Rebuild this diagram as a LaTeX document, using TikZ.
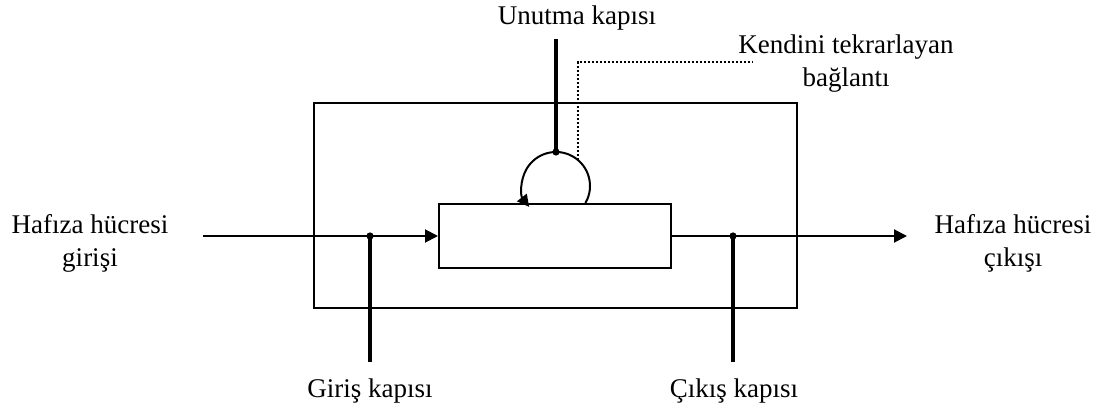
\documentclass[tikz,border=0pt]{standalone}
\usepackage{fontspec}
\setmainfont{Liberation Serif}
\usetikzlibrary{arrows.meta,positioning}

\begin{document}
\begin{tikzpicture}[
  x=0.5pt, y=-0.5pt,
  box/.style={draw, line width=1pt, rectangle, inner sep=0pt},
  lbl/.style={font=\fontsize{13.5}{16.5}\selectfont, inner sep=0pt, align=center},
  sig/.style={line width=1pt},
  arr/.style={-{Triangle[length=6.5pt,width=6.5pt]}, line width=1pt},
  gate/.style={line width=1.6pt},
  dot/.style={circle, fill, inner sep=0pt, minimum size=3.6pt},
  loop/.style={-{Triangle[length=6pt,width=6pt]}, line width=1pt},
  node distance=0.32cm
]
\useasboundingbox (0,0) rectangle (1103,410);

% memory cell and its inner store
\node[box, minimum width=241.5pt, minimum height=102.5pt] (cell) at (555.5,205.5) {};
\node[box, minimum width=116pt, minimum height=32pt] (mem) at (555,236) {};

% self-recurrent loop on top of the store
\coordinate (loopc) at (556,186);
\coordinate (ftop) at ([shift={(90:17pt)}]loopc);
\draw[loop] ([shift={(-30:17pt)}]loopc) arc[start angle=-30, end angle=218, radius=17pt];

% forget gate
\coordinate (fg) at (556,39);
\draw[gate] (fg) -- (ftop);
\node[dot] at (ftop) {};
\node[lbl, anchor=base] (unut) at (577,25) {Unutma kapısı};

% recurrent link label
\coordinate (kd) at (752,62);
\draw[densely dotted, line width=1pt] ([shift={(50:17pt)}]loopc) |- (kd);
\node[lbl] (kend) at (846,64) {Kendini tekrarlayan\\bağlantı};

% input path and input gate
\coordinate (cin) at (203,236);
\coordinate (gi) at (370,236);
\coordinate (gib) at (370,362);
\draw[arr] (cin) -- (mem.west);
\draw[gate] (gib) -- (gi);
\node[dot] at (gi) {};
\node[lbl] (hin) at (90,243) {Hafıza hücresi\\girişi};
\node[lbl, anchor=base] (giris) at (370,398) {Giriş kapısı};

% output path and output gate
\coordinate (cout) at (907,236);
\coordinate (go) at (733,236);
\coordinate (gob) at (733,362);
\draw[arr] (mem.east) -- (cout);
\draw[gate] (gob) -- (go);
\node[dot] at (go) {};
\node[lbl] (hout) at (1013,243) {Hafıza hücresi\\çıkışı};
\node[lbl, anchor=base] (cikis) at (734,398) {Çıkış kapısı};

\end{tikzpicture}
\end{document}
